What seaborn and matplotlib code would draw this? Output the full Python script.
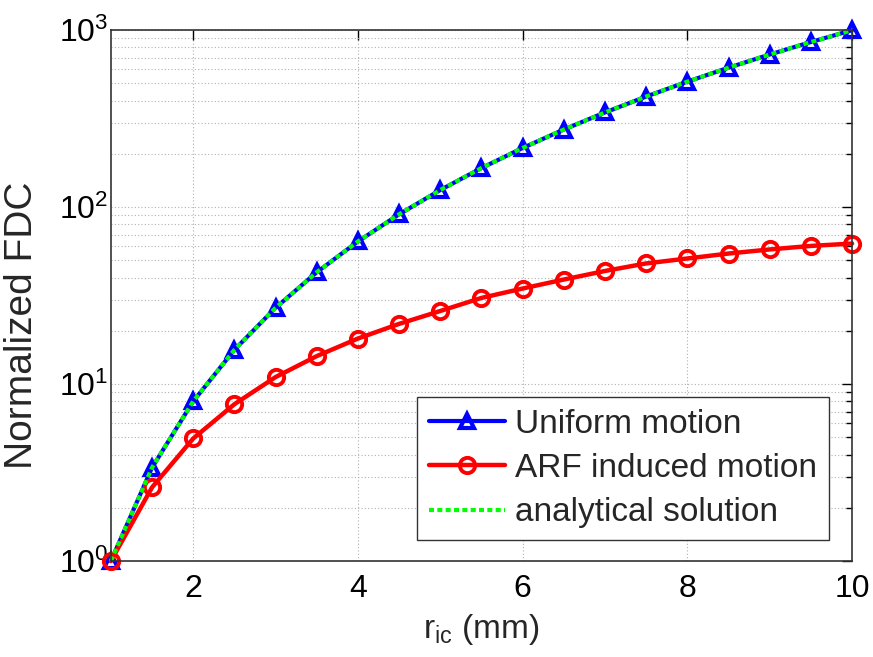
import matplotlib
matplotlib.use("Agg")
import matplotlib.pyplot as plt
import seaborn as sns
import numpy as np
from matplotlib.ticker import LogLocator, NullFormatter, LogFormatterMathtext

# Inner cylinder radius (mm)
r_ic = [1.0, 1.5, 2.0, 2.5, 3.0, 3.5, 4.0, 4.5, 5.0, 5.5, 6.0, 6.5, 7.0, 7.5, 8.0, 8.5, 9.0, 9.5, 10.0]

# Normalized FDC for each case
uniform_motion = [1.0, 3.375, 8.0, 15.63, 27.0, 42.88, 64.0, 91.13, 125.0, 166.4, 216.0, 274.6,
                  343.0, 421.9, 512.0, 614.1, 729.0, 857.4, 1000.0]
arf_motion = [1.0, 2.61, 4.93, 7.7, 10.96, 14.4, 18.1, 21.9, 25.9, 30.7, 34.7, 39.0,
              43.6, 48.1, 51.3, 54.7, 57.7, 60.4, 62.3]
analytical = [1.0, 3.375, 8.0, 15.63, 27.0, 42.88, 64.0, 91.13, 125.0, 166.4, 216.0, 274.6,
              343.0, 421.9, 512.0, 614.1, 729.0, 857.4, 1000.0]

x_ticks = [2, 4, 6, 8, 10]

sns.set_theme(style="white")
plt.rcParams["font.family"] = ["Liberation Sans", "DejaVu Sans"]
plt.rcParams["mathtext.fontset"] = "custom"
plt.rcParams["mathtext.rm"] = "Liberation Sans"
plt.rcParams["mathtext.it"] = "Liberation Sans"
plt.rcParams["mathtext.default"] = "regular"

fig = plt.figure(figsize=(8.73, 6.57), dpi=100)
ax = fig.add_axes([0.127, 0.146, 0.849, 0.808])

sns.lineplot(x=r_ic, y=uniform_motion, ax=ax, color="#0000ff", lw=3.0,
             marker="^", markersize=9.5, markerfacecolor="none",
             markeredgecolor="#0000ff", markeredgewidth=3, label="Uniform motion",
             clip_on=False)
sns.lineplot(x=r_ic, y=arf_motion, ax=ax, color="#ff0000", lw=3.2,
             marker="o", markersize=11, markerfacecolor="none",
             markeredgecolor="#ff0000", markeredgewidth=2.8, label="ARF induced motion",
             clip_on=False)
sns.lineplot(x=r_ic, y=analytical, ax=ax, color="#00ff00", lw=3.0,
             linestyle=(0, (1.2, 0.8)), label="analytical solution", clip_on=False)

ax.set_yscale("log")
ax.set_xlim(1, 10)
ax.set_ylim(1, 1000)
ax.set_xticks(x_ticks)
ax.set_xticklabels([str(t) for t in x_ticks])
ax.yaxis.set_major_locator(LogLocator(base=10, numticks=10))
ax.yaxis.set_minor_locator(LogLocator(base=10, subs=np.arange(2, 10), numticks=10))
ax.yaxis.set_major_formatter(LogFormatterMathtext())
ax.yaxis.set_minor_formatter(NullFormatter())

ax.grid(True, which="major", axis="both", color="#b0b0b0", linestyle=(0, (1, 2)), lw=0.8)
ax.grid(True, which="minor", axis="y", color="#b0b0b0", linestyle=(0, (1, 2)), lw=0.8)

ax.tick_params(axis="both", which="both", direction="in", top=True, right=True,
               labelsize=23, colors="black")
ax.tick_params(axis="both", which="major", length=7, width=1)
ax.tick_params(axis="x", which="major", pad=9)
ax.tick_params(axis="y", which="major", pad=2)
ax.tick_params(axis="y", which="minor", length=4, width=1)
for s in ax.spines.values():
    s.set_color("#333333")
    s.set_linewidth(1.2)

ax.set_xlabel(r"r$_{\mathregular{ic}}$ (mm)", fontsize=24, labelpad=6)
ax.set_ylabel("Normalized FDC", fontsize=28)
ax.yaxis.set_label_coords(-0.096, 0.444)

leg = ax.legend(loc="lower right", bbox_to_anchor=(0.969, 0.04), fontsize=24,
                frameon=True, fancybox=False, framealpha=1, edgecolor="#333333",
                handlelength=2.3, borderpad=0.35, labelspacing=0.4, handletextpad=0.3,
                borderaxespad=0)
leg.get_frame().set_linewidth(1.0)

fig.savefig("out.png", dpi=100)
